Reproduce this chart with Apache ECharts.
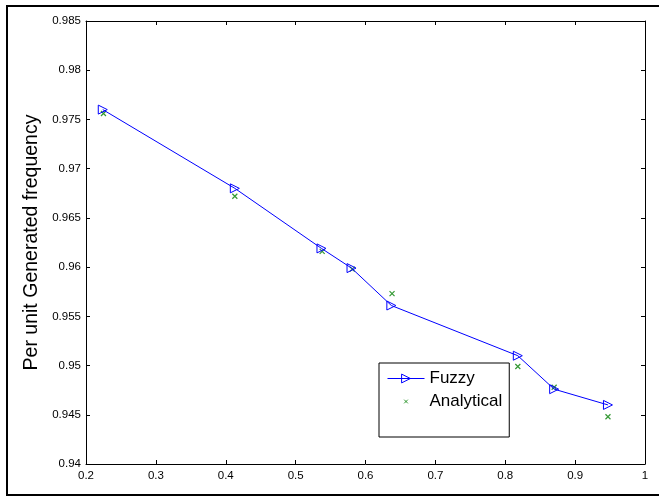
<!DOCTYPE html>
<html>
<head>
<meta charset="utf-8">
<script src="https://cdn.jsdelivr.net/npm/echarts@6/dist/echarts.min.js"></script>
<style>
html,body{margin:0;padding:0;background:#fff;}
#chart{width:659px;height:496px;}
</style>
</head>
<body>
<div id="chart"></div>
<script>
// Data
const fuzzyX = [0.224, 0.413, 0.537, 0.580, 0.637, 0.818, 0.870, 0.947];
const fuzzyY = [0.9760, 0.9680, 0.9619, 0.9599, 0.9561, 0.9510, 0.9476, 0.9460];
const analyticalX = [0.225, 0.413, 0.538, 0.581, 0.638, 0.818, 0.870, 0.947];
const analyticalY = [0.9756, 0.9672, 0.9616, 0.9598, 0.9573, 0.9499, 0.9478, 0.9448];
const seriesNames = ['Fuzzy', 'Analytical'];
const yAxisTitle = 'Per unit Generated frequency';

const FONT = '"Liberation Sans", Arial, sans-serif';
const fmt = v => String(+(+v).toFixed(3));

const chart = echarts.init(document.getElementById('chart'), null, {renderer: 'canvas'});

const tickStyle = {show: true, inside: true, length: 4, lineStyle: {color: '#000', width: 1}};
const lineStyle = {show: true, lineStyle: {color: '#000', width: 1}};
const crossPath = 'path://M0,0 L10,10 M10,0 L0,10';
const crossLegendPath = 'path://M0,0 M24,24 M8,8 L16,16 M16,8 L8,16';

chart.setOption({
  animation: false,
  backgroundColor: '#fff',
  textStyle: {fontFamily: FONT},
  grid: {left: 86, top: 21, right: 14, bottom: 32, containLabel: false},
  xAxis: [
    {type: 'value', position: 'bottom', min: 0.2, max: 1, interval: 0.1,
     axisLine: lineStyle, axisTick: tickStyle, splitLine: {show: false},
     axisLabel: {color: '#000', fontSize: 11.5, fontFamily: FONT, margin: 6, formatter: fmt}},
    {type: 'value', position: 'top', min: 0.2, max: 1, interval: 0.1,
     axisLine: lineStyle, axisTick: tickStyle, splitLine: {show: false},
     axisLabel: {show: false}}
  ],
  yAxis: [
    {type: 'value', position: 'left', min: 0.94, max: 0.985, interval: 0.005,
     axisLine: lineStyle, axisTick: tickStyle, splitLine: {show: false},
     axisLabel: {color: '#000', fontSize: 11.5, fontFamily: FONT, margin: 5, formatter: fmt},
     name: yAxisTitle, nameLocation: 'middle', nameGap: 43, nameRotate: 90,
     nameTextStyle: {color: '#000', fontSize: 19.5, fontFamily: FONT}},
    {type: 'value', position: 'right', min: 0.94, max: 0.985, interval: 0.005,
     axisLine: lineStyle, axisTick: tickStyle, splitLine: {show: false},
     axisLabel: {show: false}}
  ],
  legend: {
    left: 379, top: 363, orient: 'vertical',
    backgroundColor: '#fff', borderColor: '#000', borderWidth: 1,
    padding: [7, 7, 27, 8], itemWidth: 37, itemHeight: 11, itemGap: 6,
    textStyle: {color: '#000', fontSize: 17, fontFamily: FONT},
    lineStyle: {width: 1},
    itemStyle: {borderWidth: 1},
    data: [
      {name: seriesNames[0]},
      {name: seriesNames[1], icon: crossLegendPath}
    ]
  },
  series: [
    {name: seriesNames[0], type: 'line', xAxisIndex: 0, yAxisIndex: 0,
     data: fuzzyX.map((x, i) => [x, fuzzyY[i]]),
     symbol: 'triangle', symbolRotate: -90, symbolSize: 9, showAllSymbol: true,
     lineStyle: {color: '#0000ff', width: 1},
     itemStyle: {color: 'rgba(255,255,255,0)', borderColor: '#0000ff', borderWidth: 1},
     z: 3},
    {name: seriesNames[1], type: 'scatter', xAxisIndex: 0, yAxisIndex: 0,
     data: analyticalX.map((x, i) => [x, analyticalY[i]]),
     symbol: crossPath, symbolSize: 5,
     itemStyle: {color: 'rgba(0,0,0,0)', borderColor: '#008000', borderWidth: 1.2},
     z: 2}
  ],
  graphic: [
    {type: 'rect', silent: true, z: 100,
     shape: {x: 7, y: 6, width: 660, height: 489},
     style: {fill: 'none', stroke: '#000', lineWidth: 2}}
  ]
});
</script>
</body>
</html>
